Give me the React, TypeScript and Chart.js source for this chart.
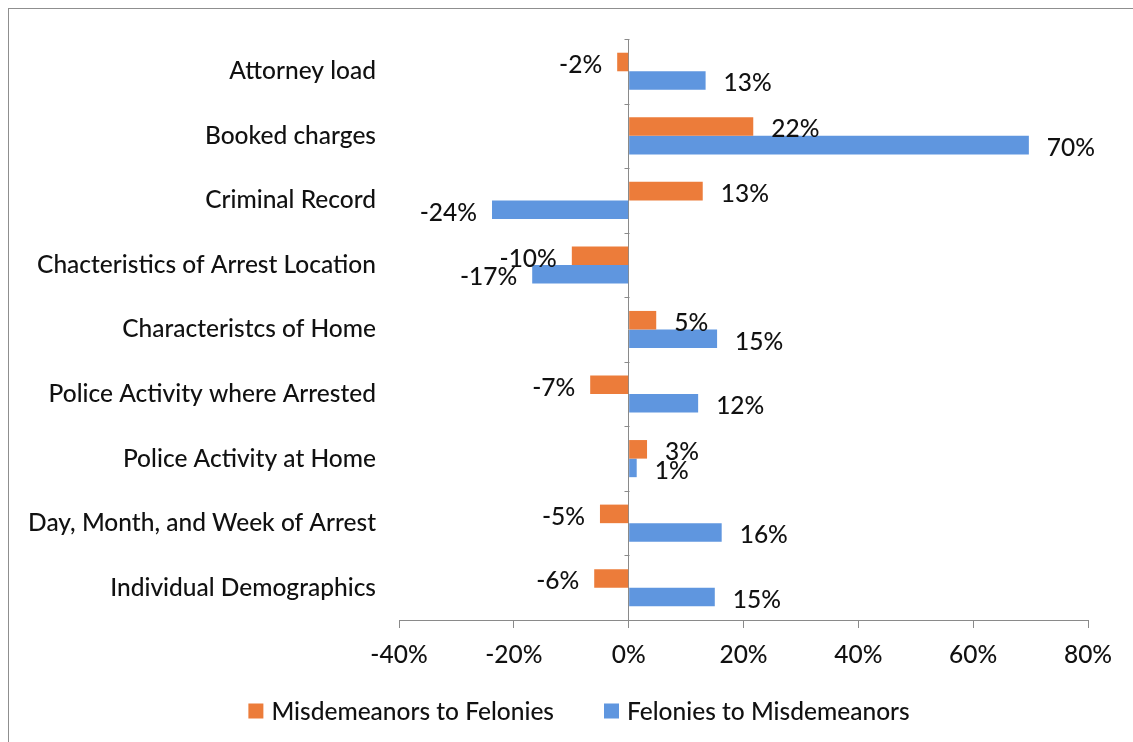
import React, { useEffect, useRef } from "react";
import { Chart, registerables } from "chart.js";

Chart.register(...registerables);

// ---- data ----
const categories = [
  "Attorney load",
  "Booked charges",
  "Criminal Record",
  "Chacteristics of Arrest Location",
  "Characteristcs of Home",
  "Police Activity where Arrested",
  "Police Activity at Home",
  "Day, Month, and Week of Arrest",
  "Individual Demographics",
];
const seriesNames = ["Misdemeanors to Felonies", "Felonies to Misdemeanors"];
const misdemeanorsToFelonies = [-2.0, 21.7, 12.9, -9.9, 4.8, -6.7, 3.2, -5.0, -6.0];
const feloniesToMisdemeanors = [13.4, 69.7, -23.8, -16.8, 15.4, 12.1, 1.4, 16.2, 15.0];
const xMin = -40;
const xMax = 80;
const xStep = 20;

// ---- style ----
const FONT = "Lato, 'Open Sans', sans-serif";
const FONT_SIZE = 24.5;
const WEIGHT = "500";
const TEXT = "#111111";
const AXIS = "#8a8a8a";
const ORANGE = "#EC7C3A";
const BLUE = "#5F96DF";
const colors = [ORANGE, BLUE];

const valueLabels = {
  id: "valueLabels",
  afterDatasetsDraw(chart: any) {
    const { ctx } = chart;
    ctx.save();
    ctx.font = `${WEIGHT} ${FONT_SIZE}px ${FONT}`;
    ctx.fillStyle = TEXT;
    ctx.textBaseline = "middle";
    chart.data.datasets.forEach((ds: any, di: number) => {
      const meta = chart.getDatasetMeta(di);
      meta.data.forEach((bar: any, i: number) => {
        const v = ds.data[i] as number;
        const pos = v >= 0;
        ctx.textAlign = pos ? "left" : "right";
        ctx.fillText(`${Math.round(v)}%`, bar.x + (pos ? 18 : -15), bar.y + 3);
      });
    });
    ctx.restore();
  },
};

const categoryTicks = {
  id: "categoryTicks",
  afterDraw(chart: any) {
    const { ctx } = chart;
    const xs = chart.scales.x;
    const ys = chart.scales.y;
    const x0 = Math.round(xs.getPixelForValue(0)) + 0.5;
    ctx.save();
    ctx.strokeStyle = AXIS;
    ctx.lineWidth = 1;
    ctx.beginPath();
    for (let i = 0; i <= categories.length; i++) {
      const y = Math.round(ys.getPixelForValue(i - 0.5)) + 0.5;
      ctx.moveTo(x0 - 5, y);
      ctx.lineTo(x0, y);
    }
    ctx.stroke();
    ctx.restore();
  },
};

const bottomLegend = {
  id: "bottomLegend",
  afterDraw(chart: any) {
    const { ctx } = chart;
    const box = 15;
    const gapText = 8;
    const gapItems = 50;
    ctx.save();
    ctx.font = `${WEIGHT} ${FONT_SIZE}px ${FONT}`;
    ctx.textBaseline = "middle";
    ctx.textAlign = "left";
    const widths = chart.data.datasets.map((d: any) => ctx.measureText(d.label).width);
    const total =
      widths.reduce((a: number, w: number) => a + box + gapText + w, 0) + gapItems * (widths.length - 1);
    let x = chart.width / 2 + 8 - total / 2;
    const yc = chart.chartArea.bottom + 91;
    chart.data.datasets.forEach((d: any, i: number) => {
      ctx.fillStyle = d.backgroundColor;
      ctx.fillRect(x, yc - box / 2, box, box);
      ctx.fillStyle = TEXT;
      ctx.fillText(d.label, x + box + gapText, yc + 1);
      x += box + gapText + widths[i] + gapItems;
    });
    ctx.restore();
  },
};

export default function App() {
  const ref = useRef<HTMLCanvasElement>(null);

  useEffect(() => {
    Chart.defaults.font.family = FONT;
    Chart.defaults.font.size = FONT_SIZE;
    Chart.defaults.color = TEXT;
    const tickFont = { size: FONT_SIZE, family: FONT, weight: WEIGHT };
    const chart = new Chart(ref.current as HTMLCanvasElement, {
      type: "bar",
      data: {
        labels: categories,
        datasets: [
          {
            label: seriesNames[0],
            data: misdemeanorsToFelonies,
            backgroundColor: colors[0],
            categoryPercentage: 0.575,
            barPercentage: 1,
          },
          {
            label: seriesNames[1],
            data: feloniesToMisdemeanors,
            backgroundColor: colors[1],
            categoryPercentage: 0.575,
            barPercentage: 1,
          },
        ],
      },
      options: {
        indexAxis: "y",
        responsive: true,
        maintainAspectRatio: false,
        animation: false,
        layout: { padding: { top: 30, right: 45, bottom: 62, left: 0 } },
        plugins: {
          legend: { display: false },
          tooltip: { enabled: false },
        },
        scales: {
          x: {
            type: "linear",
            min: xMin,
            max: xMax,
            ticks: {
              stepSize: xStep,
              callback: (v: any) => `${v}%`,
              font: tickFont,
              color: TEXT,
              padding: 12,
              maxRotation: 0,
              autoSkip: false,
            },
            grid: {
              color: (c: any) => (c.tick && c.tick.value === 0 ? AXIS : "rgba(0,0,0,0)"),
              tickColor: AXIS,
              tickLength: 8,
              drawOnChartArea: true,
            },
            border: { display: true, color: AXIS },
            afterFit: (s: any) => {
              s.height = 60;
              s.paddingLeft = 0;
              s.paddingRight = 0;
            },
          },
          y: {
            ticks: {
              font: tickFont,
              color: TEXT,
              padding: 23,
              autoSkip: false,
            },
            grid: { display: false, drawTicks: false },
            border: { display: false },
            afterFit: (s: any) => {
              s.width = 390;
              s.paddingTop = 0;
              s.paddingBottom = 0;
            },
          },
        },
      } as any,
      plugins: [valueLabels, categoryTicks, bottomLegend],
    });
    return () => chart.destroy();
  }, []);

  return (
    <div
      style={{
        position: "fixed",
        left: 8,
        top: 8,
        width: 1125,
        height: 734,
        borderLeft: "1px solid #8f8f8f",
        borderTop: "1px solid #8f8f8f",
        boxSizing: "border-box",
        background: "#fff",
      }}
    >
      <div style={{ position: "absolute", left: 0, top: 0, width: 1124, height: 733 }}>
        <canvas ref={ref} />
      </div>
    </div>
  );
}
